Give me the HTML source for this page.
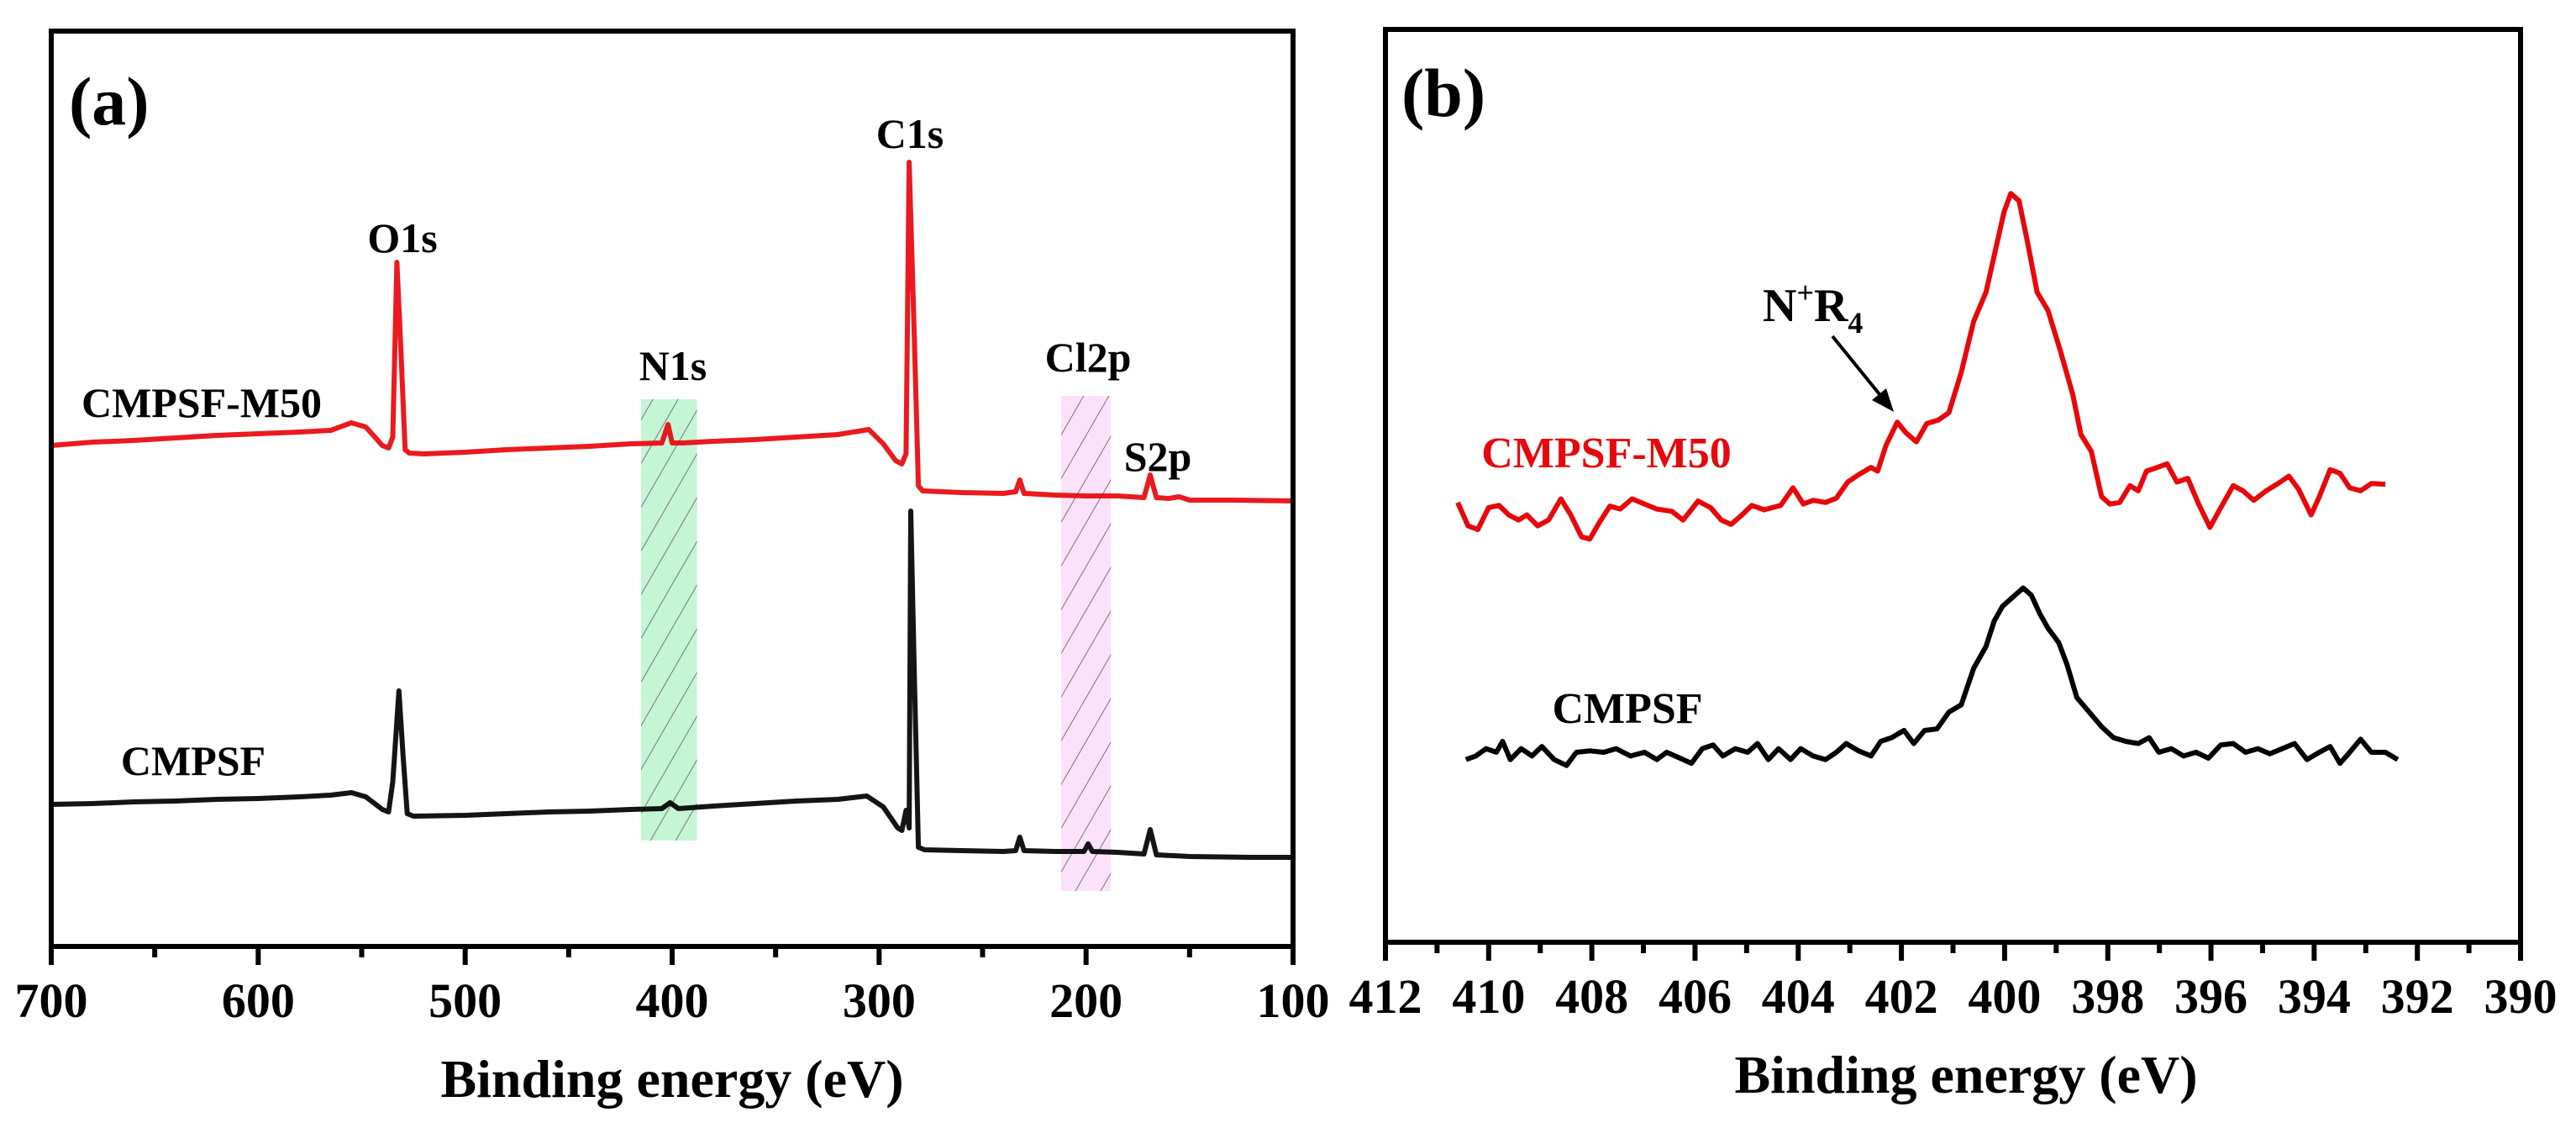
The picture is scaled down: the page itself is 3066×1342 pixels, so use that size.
<!DOCTYPE html>
<html><head><meta charset="utf-8"><style>
html,body{margin:0;padding:0;background:#fff}
svg{display:block}
text{font-family:"Liberation Serif",serif;font-weight:bold}
</style></head><body>
<svg id="fig" width="3066" height="1342" viewBox="0 0 3066 1342">
<defs>
<pattern id="hatch" patternUnits="userSpaceOnUse" width="26" height="26" patternTransform="rotate(30)">
<line x1="0" y1="0" x2="0" y2="26" stroke="#777" stroke-width="2"/>
</pattern>
</defs>
<g id="pa"></g>
<g id="pb"></g>
</svg>
<script>
// ---- Panel (a) survey data (energy eV, intensity a.u.) ----
const aRedE=[700,680,660,640,620,600,580,565,555,548,540,537,535,533,531,529,527,520,500,480,460,440,420,405,402,400,395,380,360,340,320,305,298,292,289,287,285.5,283,281,279,260,240,234,232,230,215,200,185,172,169,166,160,155,150,130,100];
const aRedI=[594,598,600,603,606,608,610,612,621,616,594,591,604,812,704,589,585,584,586,589,591,593,596,597,619,597,597,599,601,604,607,613,596,576,572,584,931,724,546,540,538,537,539,553,537,535,534,534,532,559,532,531,533,529,529,528];
const aBlkE=[700,680,660,640,620,600,580,565,555,548,540,537,535,532,530,528,525,500,480,460,440,420,405,401,397,380,360,340,320,306,298,291,289,287,285.5,284.7,283,281,278,260,240,234,232,230,215,201,199,197,185,172,169,166,150,120,100];
const aBlkI=[167,168,170,171,173,174,176,178,181,176,161,158,194,302,224,156,153,154,156,158,159,161,162,169,162,165,168,171,173,177,164,139,136,160,139,516,324,116,113,112,111,112,128,112,111,111,120,111,110,108,137,107,105,104,104];
const aTicks=[700,600,500,400,300,200,100];
const aMinor=[650,550,450,350,250,150];
// ---- Panel (b) N1s data ----
const bRedE=[410.6,410.4,410.21,410.0,409.8,409.61,409.42,409.26,409.05,408.84,408.6,408.41,408.2,408.04,407.85,407.65,407.45,407.22,406.98,406.74,406.45,406.23,405.94,405.7,405.49,405.3,405.09,404.9,404.66,404.34,404.1,403.9,403.71,403.47,403.26,403.04,402.83,402.59,402.46,402.3,402.08,401.92,401.71,401.51,401.28,401.08,400.84,400.6,400.36,400.17,400.01,399.88,399.72,399.56,399.37,399.16,398.92,398.68,398.52,398.32,398.12,397.96,397.77,397.57,397.41,397.25,397.04,396.85,396.66,396.45,396.24,396.02,395.81,395.57,395.38,395.17,394.93,394.7,394.49,394.3,394.06,393.9,393.69,393.5,393.31,393.1,392.89,392.62];
const bRedI=[617,585,580,610,613,600,593,600,585,593,622,600,570,567,590,612,608,622,615,608,605,593,619,610,593,587,600,613,607,613,637,615,620,617,623,645,655,665,660,695,727,713,700,725,730,740,795,865,905,965,1015,1040,1030,975,905,880,825,765,710,687,625,615,617,640,633,660,665,670,645,650,615,583,610,640,633,620,633,643,653,635,600,625,662,657,637,633,643,642];
const bBlkE=[410.44,410.25,410.05,409.85,409.73,409.58,409.37,409.16,408.97,408.73,408.49,408.3,408.04,407.77,407.53,407.25,406.98,406.74,406.55,406.29,406.07,405.86,405.65,405.46,405.22,404.98,404.79,404.58,404.38,404.15,403.95,403.71,403.47,403.26,403.07,402.83,402.59,402.4,402.19,401.95,401.76,401.55,401.31,401.08,400.84,400.6,400.36,400.2,400.04,399.88,399.64,399.48,399.32,399.16,398.95,398.79,398.6,398.36,398.12,397.89,397.65,397.41,397.2,397.01,396.77,396.53,396.29,396.05,395.81,395.57,395.33,395.09,394.86,394.62,394.38,394.14,393.9,393.69,393.5,393.31,393.1,392.89,392.62,392.38];
const bBlkI=[265,270,280,275,290,265,280,270,283,265,257,275,277,275,280,270,275,265,275,267,260,280,285,270,280,275,287,265,280,265,280,270,265,275,287,277,270,290,295,305,287,305,307,330,340,390,420,455,475,485,500,490,465,445,425,395,350,330,310,295,290,287,295,275,280,270,275,267,285,287,275,280,273,280,287,265,275,283,260,275,293,275,275,265];
const bTicks=[412,410,408,406,404,402,400,398,396,394,392,390];
const bMinor=[411,409,407,405,403,401,399,397,395,393,391];

const NS="http://www.w3.org/2000/svg";
function mk(parent,tag,attrs,txt){const e=document.createElementNS(NS,tag);for(const k in attrs)e.setAttribute(k,attrs[k]);if(txt!==undefined)e.textContent=txt;parent.appendChild(e);return e;}

// ---------- Panel A ----------
const pa=document.getElementById('pa');
const A={l:61,r:1539,t:37,b:1126,e0:700,e1:100};
const ax=e=>A.l+(A.e0-e)/(A.e0-A.e1)*(A.r-A.l);
const ay=v=>1124-v;
let band=mk(pa,'rect',{x:ax(415),y:475,width:ax(388)-ax(415),height:525,fill:'#c4f5d4'});


mk(pa,'rect',{x:ax(415),y:475,width:ax(388)-ax(415),height:525,fill:'url(#hatch)'});
let band2=mk(pa,'rect',{x:ax(212),y:471,width:ax(188)-ax(212),height:589,fill:'#fbe2fa'});


mk(pa,'rect',{x:ax(212),y:471,width:ax(188)-ax(212),height:589,fill:'url(#hatch)'});
function pts(E,I,fx,fy){return E.map((e,i)=>fx(e).toFixed(1)+','+fy(I[i]).toFixed(1)).join(' ');}
let l1=mk(pa,'polyline',{points:pts(aRedE,aRedI,ax,ay),fill:'none',stroke:'#e8070b','stroke-width':6,'stroke-linejoin':'round',opacity:0.92});


let l2=mk(pa,'polyline',{points:pts(aBlkE,aBlkI,ax,ay),fill:'none',stroke:'#000','stroke-width':6,'stroke-linejoin':'round',opacity:0.92});


let fa=mk(pa,'rect',{x:A.l,y:A.t,width:A.r-A.l,height:A.b-A.t,fill:'none',stroke:'#000','stroke-width':6});


aTicks.forEach(t=>{
  let tk=mk(pa,'line',{x1:ax(t),x2:ax(t),y1:A.b,y2:A.b+22,stroke:'#000','stroke-width':6});
  
  
  let tl=mk(pa,'text',{x:ax(t),y:1210,'font-size':58,'text-anchor':'middle'},String(t));
  
  
});
aMinor.forEach(t=>{let tk=mk(pa,'line',{x1:ax(t),x2:ax(t),y1:A.b,y2:A.b+13,stroke:'#000','stroke-width':6});
  
  });
function lab(p,x,y,s,fs,name,col,anchor){let t=mk(p,'text',{x:x,y:y,'font-size':fs,'text-anchor':anchor||'middle',fill:col||'#000'},s);return t;}
lab(pa,82,148,'(a)',82,'panel-a-label','#000','start');
lab(pa,240,496,'CMPSF-M50',50,'cmpsf-m50-label-a');
lab(pa,230,922,'CMPSF',50,'cmpsf-label-a');
lab(pa,479,300,'O1s',50,'o1s-label');
lab(pa,1083,176,'C1s',50,'c1s-label');
lab(pa,801,452,'N1s',50,'n1s-label');
lab(pa,1295,442,'Cl2p',50,'cl2p-label');
lab(pa,1378,560,'S2p',50,'s2p-label');
lab(pa,(A.l+A.r)/2,1305,'Binding energy (eV)',64,'x-axis-title-a');

// ---------- Panel B ----------
const pb=document.getElementById('pb');
const B={l:1649,r:3000,t:35,b:1121,e0:412,e1:390};
const bx=e=>B.l+(B.e0-e)/(B.e0-B.e1)*(B.r-B.l);
const by=v=>1134-v*0.869;
let l3=mk(pb,'polyline',{points:pts(bRedE,bRedI,bx,by),fill:'none',stroke:'#e8070b','stroke-width':6,'stroke-linejoin':'round'});


let l4=mk(pb,'polyline',{points:pts(bBlkE,bBlkI,bx,by),fill:'none',stroke:'#000','stroke-width':6,'stroke-linejoin':'round'});


let fb=mk(pb,'rect',{x:B.l,y:B.t,width:B.r-B.l,height:B.b-B.t,fill:'none',stroke:'#000','stroke-width':6});


bTicks.forEach(t=>{
  let tk=mk(pb,'line',{x1:bx(t),x2:bx(t),y1:B.b,y2:B.b+22,stroke:'#000','stroke-width':6});
  
  
  let tl=mk(pb,'text',{x:bx(t),y:1205,'font-size':58,'text-anchor':'middle'},String(t));
  
  
});
bMinor.forEach(t=>{let tk=mk(pb,'line',{x1:bx(t),x2:bx(t),y1:B.b,y2:B.b+13,stroke:'#000','stroke-width':6});
  
  });
lab(pb,1668,138,'(b)',82,'panel-b-label','#000','start');
lab(pb,1912,556,'CMPSF-M50',52,'cmpsf-m50-label-b','#e8070b');
lab(pb,1937,860,'CMPSF',52,'cmpsf-label-b');
let nr=mk(pb,'text',{x:2098,y:382,'font-size':56,'text-anchor':'start'});


nr.innerHTML='N<tspan dy="-22" font-size="36">+</tspan><tspan dy="22">R</tspan><tspan dy="14" font-size="36">4</tspan>';
let ar=mk(pb,'line',{x1:2181,y1:400,x2:2241,y2:474,stroke:'#000','stroke-width':4});


let ah=mk(pb,'polygon',{points:'2254,490 2228,476 2245,462',fill:'#000'});


lab(pb,2340,1300,'Binding energy (eV)',64,'x-axis-title-b');
</script>
</body></html>
